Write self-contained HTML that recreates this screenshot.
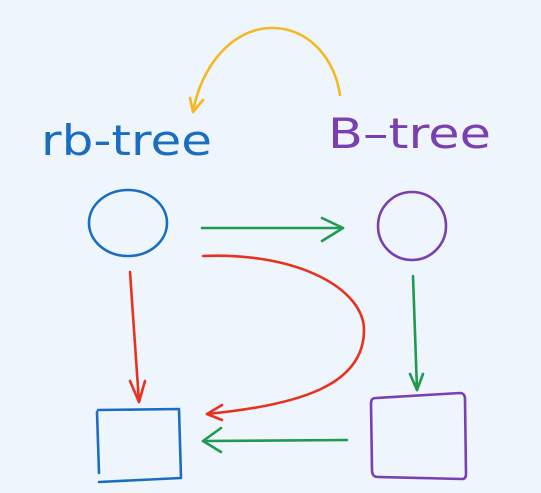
<!DOCTYPE html>
<html><head><style>
html,body{margin:0;padding:0;background:#eef5fc;}
svg{display:block;}
</style></head><body>
<svg width="541" height="493" viewBox="0 0 541 493" xmlns="http://www.w3.org/2000/svg">
<rect width="541" height="493" fill="#eef5fc"/>
<g fill="none" stroke-linecap="round" stroke-linejoin="round" stroke-width="2.6">
<!-- yellow arc -->
<path d="M340,95 C335,60 310,28 272,28 C230,28 200,70 193,112" stroke="#f5b820"/>
<path d="M190,98 L193,112 L203,100" stroke="#f5b820"/>
<!-- circles -->
<ellipse cx="128" cy="223" rx="39" ry="33" stroke="#1a6ec2"/>
<ellipse cx="412" cy="226" rx="34" ry="34" stroke="#7a3fb0"/>
<!-- green top arrow -->
<path d="M202,228 L343,228" stroke="#1f9a4e"/>
<path d="M322,218 L343,228 L322,241" stroke="#1f9a4e"/>
<!-- red curve -->
<path d="M203,256 C300,252 364,290 364,330 C364,385 300,405 207,414" stroke="#e8321e"/>
<path d="M222,405 L207,414 L222,420" stroke="#e8321e"/>
<!-- red vertical -->
<path d="M130,272 L139,402" stroke="#e8321e"/>
<path d="M130,381 L139,402 L145,381" stroke="#e8321e"/>
<!-- green vertical -->
<path d="M413,276 L417,390" stroke="#1f9a4e"/>
<path d="M410,374 L417,390 L423,374" stroke="#1f9a4e"/>
<!-- squares -->
<path d="M97,412 L99,473 M98,410 L179,409 L181,478 L99,482" stroke="#1a6ec2"/>
<path d="M376,398 C372,398 371,400 371,404 L372,470 C372,475 374,477 378,477 L462,479 C465,479 466,477 466,474 L465,399 C465,395 463,393 460,393 Z" stroke="#7a3fb0"/>
<!-- green bottom arrow -->
<path d="M347,440 L203,441" stroke="#1f9a4e"/>
<path d="M221,428 L203,441 L221,452" stroke="#1f9a4e"/>
</g>
<text x="41" y="155" font-family="'Comic Sans MS','DejaVu Sans',sans-serif" font-size="42" fill="#1a6ec2" textLength="171" lengthAdjust="spacingAndGlyphs">rb-tree</text>
<text x="328" y="148" font-family="'Comic Sans MS','DejaVu Sans',sans-serif" font-size="42" fill="#7a3fb0" textLength="163" lengthAdjust="spacingAndGlyphs">B–tree</text>
</svg>
</body></html>
